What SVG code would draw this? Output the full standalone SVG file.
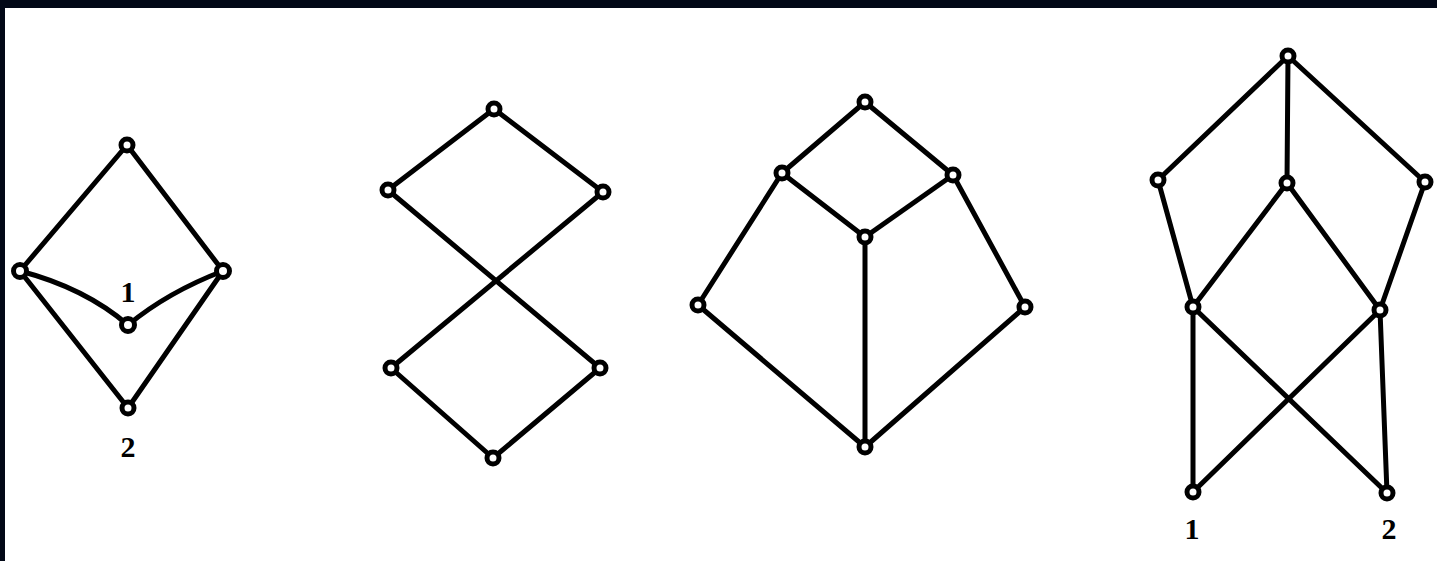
<svg xmlns="http://www.w3.org/2000/svg" width="1437" height="561" viewBox="0 0 1437 561">
<style>
.e{stroke:#000;stroke-width:5;fill:none;stroke-linecap:round}
.n{fill:#fff;stroke:#000;stroke-width:5}
.t{font-family:"Liberation Serif",serif;font-size:30px;font-weight:bold;fill:#000;text-anchor:middle}
</style>
<rect x="0" y="0" width="1437" height="561" fill="#020817"/>
<rect x="5" y="8" width="1432" height="553" fill="#fff"/>
<g id="connectors">
<g id="g1-edges">
<line class="e" x1="127" y1="145" x2="20" y2="271"/>
<line class="e" x1="127" y1="145" x2="223" y2="271"/>
<path class="e" d="M20 271 Q85 288 128 325"/>
<path class="e" d="M223 271 Q168 292 128 325"/>
<line class="e" x1="20" y1="271" x2="128" y2="408"/>
<line class="e" x1="223" y1="271" x2="128" y2="408"/>
</g>
<g id="g2-edges">
<line class="e" x1="494" y1="109" x2="388" y2="190"/>
<line class="e" x1="494" y1="109" x2="603" y2="192"/>
<line class="e" x1="388" y1="190" x2="600" y2="368"/>
<line class="e" x1="603" y1="192" x2="391" y2="368"/>
<line class="e" x1="391" y1="368" x2="493" y2="458"/>
<line class="e" x1="600" y1="368" x2="493" y2="458"/>
</g>
<g id="g3-edges">
<line class="e" x1="865" y1="102" x2="782" y2="173"/>
<line class="e" x1="865" y1="102" x2="953" y2="175"/>
<line class="e" x1="782" y1="173" x2="865" y2="237"/>
<line class="e" x1="953" y1="175" x2="865" y2="237"/>
<line class="e" x1="782" y1="173" x2="698" y2="305"/>
<line class="e" x1="953" y1="175" x2="1025" y2="307"/>
<line class="e" x1="865" y1="237" x2="865" y2="447"/>
<line class="e" x1="698" y1="305" x2="865" y2="447"/>
<line class="e" x1="1025" y1="307" x2="865" y2="447"/>
</g>
<g id="g4-edges">
<line class="e" x1="1288" y1="56" x2="1158" y2="180"/>
<line class="e" x1="1288" y1="56" x2="1287" y2="183"/>
<line class="e" x1="1288" y1="56" x2="1425" y2="182"/>
<line class="e" x1="1158" y1="180" x2="1193" y2="307"/>
<line class="e" x1="1287" y1="183" x2="1193" y2="307"/>
<line class="e" x1="1287" y1="183" x2="1380" y2="310"/>
<line class="e" x1="1425" y1="182" x2="1380" y2="310"/>
<line class="e" x1="1193" y1="307" x2="1193" y2="492"/>
<line class="e" x1="1193" y1="307" x2="1387" y2="493"/>
<line class="e" x1="1380" y1="310" x2="1193" y2="492"/>
<line class="e" x1="1380" y1="310" x2="1387" y2="493"/>
</g>
</g>
<g id="g1-top"><circle class="n" cx="127" cy="145" r="6"/></g>
<g id="g1-left"><circle class="n" cx="20" cy="271" r="6.5"/></g>
<g id="g1-right"><circle class="n" cx="223" cy="271" r="6.5"/></g>
<g id="g1-mid"><circle class="n" cx="128" cy="325" r="6.5"/><text class="t" x="128" y="302">1</text></g>
<g id="g1-bottom"><circle class="n" cx="128" cy="408" r="6"/><text class="t" x="128" y="457">2</text></g>
<g id="g2-top"><circle class="n" cx="494" cy="109" r="6"/></g>
<g id="g2-left"><circle class="n" cx="388" cy="190" r="6"/></g>
<g id="g2-right"><circle class="n" cx="603" cy="192" r="6"/></g>
<g id="g2-lowleft"><circle class="n" cx="391" cy="368" r="6"/></g>
<g id="g2-lowright"><circle class="n" cx="600" cy="368" r="6"/></g>
<g id="g2-bottom"><circle class="n" cx="493" cy="458" r="6"/></g>
<g id="g3-top"><circle class="n" cx="865" cy="102" r="6"/></g>
<g id="g3-ul"><circle class="n" cx="782" cy="173" r="6"/></g>
<g id="g3-ur"><circle class="n" cx="953" cy="175" r="6"/></g>
<g id="g3-center"><circle class="n" cx="865" cy="237" r="6"/></g>
<g id="g3-left"><circle class="n" cx="698" cy="305" r="6"/></g>
<g id="g3-right"><circle class="n" cx="1025" cy="307" r="6"/></g>
<g id="g3-bottom"><circle class="n" cx="865" cy="447" r="6"/></g>
<g id="g4-top"><circle class="n" cx="1288" cy="56" r="6"/></g>
<g id="g4-left"><circle class="n" cx="1158" cy="180" r="6"/></g>
<g id="g4-mid"><circle class="n" cx="1287" cy="183" r="6"/></g>
<g id="g4-right"><circle class="n" cx="1425" cy="182" r="6"/></g>
<g id="g4-ll"><circle class="n" cx="1193" cy="307" r="6"/></g>
<g id="g4-lr"><circle class="n" cx="1380" cy="310" r="6"/></g>
<g id="g4-bl"><circle class="n" cx="1193" cy="492" r="6"/><text class="t" x="1192" y="539">1</text></g>
<g id="g4-br"><circle class="n" cx="1387" cy="493" r="6"/><text class="t" x="1389" y="539">2</text></g>
</svg>
